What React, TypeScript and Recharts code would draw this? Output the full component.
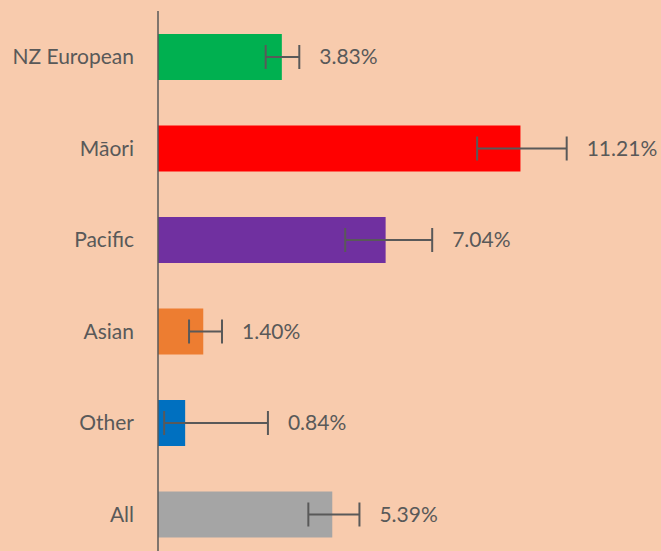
import React from "react";
import { Bar, BarChart, Cell, ErrorBar, LabelList, XAxis, YAxis } from "recharts";

const groups = ["NZ European", "Māori", "Pacific", "Asian", "Other", "All"];
const rates = [3.83, 11.21, 7.04, 1.4, 0.84, 5.39];
const lowerCI = [3.33, 9.87, 5.79, 0.96, 0.19, 4.65];
const upperCI = [4.37, 12.64, 8.48, 1.98, 3.4, 6.23];
const colours = ["#00B050", "#FF0000", "#7030A0", "#ED7D31", "#0070C0", "#A5A5A5"];

const data = groups.map((group, i) => ({
  group,
  rate: rates[i],
  err: [rates[i] - lowerCI[i], upperCI[i] - rates[i]],
}));

const textColour = "#595959";
const font = "Lato, 'Open Sans', sans-serif";

function RateLabel(props: any) {
  const { x, y, width, height, value, index } = props;
  // put the label past the upper error cap, like Excel does
  const pxPerUnit = width / value;
  const endX = x + upperCI[index] * pxPerUnit;
  return (
    <text
      x={endX + 20}
      y={y + height / 2}
      dy={7}
      fill={textColour}
      fontSize={21}
      fontFamily={font}
    >
      {value.toFixed(2)}%
    </text>
  );
}

export default function App() {
  return (
    <div
      style={{
        position: "absolute",
        top: 0,
        left: 0,
        width: 661,
        height: 551,
        overflow: "hidden",
        background: "#F8CBAD",
      }}
    >
      <BarChart
        width={661}
        height={570}
        data={data}
        layout="vertical"
        margin={{ top: 11, right: 18, bottom: 10, left: 0 }}
      >
        <XAxis type="number" domain={[0, 15]} hide />
        <YAxis
          type="category"
          dataKey="group"
          width={158}
          axisLine={{ stroke: textColour, strokeWidth: 1.5 }}
          tickLine={false}
          tickSize={6}
          tickMargin={18}
          tick={{ fill: textColour, fontSize: 21, fontFamily: font }}
        />
        <Bar dataKey="rate" barSize={46} isAnimationActive={false}>
          {data.map((d, i) => (
            <Cell key={d.group} fill={colours[i]} />
          ))}
          <ErrorBar dataKey="err" direction="x" width={12} stroke={textColour} strokeWidth={2} />
          <LabelList dataKey="rate" content={RateLabel} />
        </Bar>
      </BarChart>
    </div>
  );
}
